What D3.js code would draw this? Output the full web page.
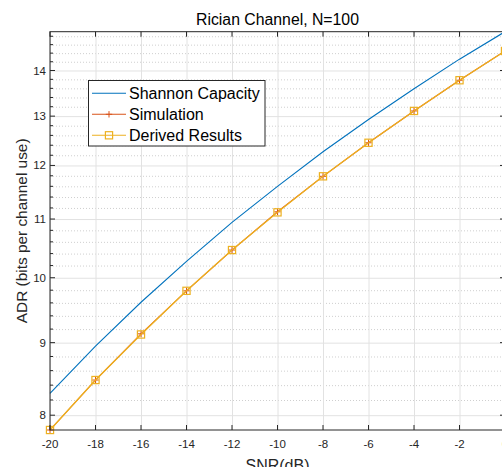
<!DOCTYPE html>
<html>
<head>
<meta charset="utf-8">
<script src="https://cdn.jsdelivr.net/npm/d3@7"></script>
<style>
  html, body { margin: 0; padding: 0; background: #fff; }
  svg { display: block; font-family: "Liberation Sans", Arial, Helvetica, sans-serif; }
</style>
</head>
<body>
<div id="chart"></div>
<script>
// SNR grid (dB)
const snrDb = [-20, -18, -16, -14, -12, -10, -8, -6, -4, -2, 0];
// Average achievable rate, bits per channel use
const shannonCapacity = [8.29, 8.95, 9.61, 10.27, 10.94, 11.60, 12.27, 12.93, 13.59, 14.26, 14.91];
const simulation      = [7.81, 8.47, 9.13, 9.79, 10.46, 11.13, 11.79, 12.45, 13.11, 13.78, 14.45];
const derivedResults  = [7.81, 8.47, 9.12, 9.79, 10.46, 11.12, 11.79, 12.45, 13.11, 13.78, 14.45];
// Axis ticks
const xTicks = [-20, -18, -16, -14, -12, -10, -8, -6, -4, -2, 0];
const yTicks = [8, 9, 10, 11, 12, 13, 14];
const legendLabels = ["Shannon Capacity", "Simulation", "Derived Results"];

const W = 502, H = 467;
const m = { left: 50, top: 31.7, right: 505, bottom: 430 };

const svg = d3.select("#chart").append("svg")
  .attr("width", W).attr("height", H);

const allVals = shannonCapacity.concat(simulation, derivedResults);
const x = d3.scaleLinear().domain([-20, 0]).range([m.left, m.right]);
const y = d3.scaleLog().domain(d3.extent(allVals)).range([m.bottom, m.top]);

// minor ticks for the log axis at 0.2 steps
const [y0, y1] = y.domain();
const yMinor = d3.range(Math.round(y0 * 5), Math.round(y1 * 5) + 1)
  .map(k => k / 5)
  .filter(v => v >= y0 - 1e-9 && v <= y1 + 1e-9 && Math.abs(v - Math.round(v)) > 1e-6);

const plotW = m.right - m.left, plotH = m.bottom - m.top;
const axisColor = "#262626";

// grid
const grid = svg.append("g");
grid.append("g").call(d3.axisLeft(y).tickValues(yMinor).tickSize(-plotW).tickFormat(""))
  .attr("transform", `translate(${m.left},0)`)
  .call(g => g.select(".domain").remove())
  .call(g => g.selectAll("line").attr("stroke", "#cfcfcf").attr("stroke-dasharray", "1,2"));
grid.append("g").call(d3.axisLeft(y).tickValues(yTicks).tickSize(-plotW).tickFormat(""))
  .attr("transform", `translate(${m.left},0)`)
  .call(g => g.select(".domain").remove())
  .call(g => g.selectAll("line").attr("stroke", "#e2e2e2"));
grid.append("g").call(d3.axisBottom(x).tickValues(xTicks).tickSize(-plotH).tickFormat(""))
  .attr("transform", `translate(0,${m.bottom})`)
  .call(g => g.select(".domain").remove())
  .call(g => g.selectAll("line").attr("stroke", "#e2e2e2"));

// series
const pts = vals => snrDb.map((d, i) => [d, vals[i]]);
const line = d3.line().x(d => x(d[0])).y(d => y(d[1]));

svg.append("path").datum(pts(shannonCapacity))
  .attr("d", line).attr("fill", "none").attr("stroke", "#0072BD").attr("stroke-width", 1.1);
svg.append("path").datum(pts(simulation))
  .attr("d", line).attr("fill", "none").attr("stroke", "#D95319").attr("stroke-width", 1.1);

const plusPath = s => `M${-s},0H${s}M0,${-s}V${s}`;
svg.append("g").selectAll("path").data(pts(simulation)).join("path")
  .attr("transform", d => `translate(${x(d[0])},${y(d[1])})`)
  .attr("d", plusPath(3.2)).attr("stroke", "#D95319").attr("stroke-width", 1).attr("fill", "none");

svg.append("path").datum(pts(derivedResults))
  .attr("d", line).attr("fill", "none").attr("stroke", "#EDB120").attr("stroke-width", 1.3);
svg.append("g").selectAll("rect").data(pts(derivedResults)).join("rect")
  .attr("x", d => x(d[0]) - 3.6).attr("y", d => y(d[1]) - 3.6)
  .attr("width", 7.2).attr("height", 7.2)
  .attr("fill", "none").attr("stroke", "#EDB120").attr("stroke-width", 1.2);

// axes box and ticks
const axes = svg.append("g").attr("stroke", axisColor).attr("stroke-width", 1);
axes.append("rect").attr("x", m.left).attr("y", m.top)
  .attr("width", plotW).attr("height", plotH).attr("fill", "none");

xTicks.forEach(t => {
  axes.append("line").attr("x1", x(t)).attr("x2", x(t)).attr("y1", m.bottom).attr("y2", m.bottom - 5);
  axes.append("line").attr("x1", x(t)).attr("x2", x(t)).attr("y1", m.top).attr("y2", m.top + 5);
});
yTicks.forEach(t => {
  axes.append("line").attr("x1", m.left).attr("x2", m.left + 5).attr("y1", y(t)).attr("y2", y(t));
  axes.append("line").attr("x1", m.right).attr("x2", m.right - 5).attr("y1", y(t)).attr("y2", y(t));
});
yMinor.forEach(t => {
  axes.append("line").attr("x1", m.left).attr("x2", m.left + 3).attr("y1", y(t)).attr("y2", y(t));
  axes.append("line").attr("x1", m.right).attr("x2", m.right - 3).attr("y1", y(t)).attr("y2", y(t));
});

// tick labels
svg.append("g").selectAll("text").data(xTicks).join("text")
  .attr("x", d => x(d)).attr("y", m.bottom + 18)
  .attr("text-anchor", "middle").attr("font-size", 11.5).attr("fill", axisColor)
  .text(d => d);
svg.append("g").selectAll("text").data(yTicks).join("text")
  .attr("x", m.left - 4).attr("y", d => y(d)).attr("dy", "0.35em")
  .attr("text-anchor", "end").attr("font-size", 11.5).attr("fill", axisColor)
  .text(d => d);

// labels
svg.append("text").attr("x", (m.left + m.right) / 2).attr("y", 25)
  .attr("text-anchor", "middle").attr("font-size", 15.8).attr("fill", "#000")
  .text("Rician Channel, N=100");
svg.append("text").attr("x", (m.left + m.right) / 2).attr("y", 471)
  .attr("text-anchor", "middle").attr("font-size", 16).attr("fill", axisColor)
  .text("SNR(dB)");
svg.append("text")
  .attr("transform", `translate(26.5,${(m.top + m.bottom) / 2}) rotate(-90)`)
  .attr("text-anchor", "middle").attr("font-size", 15.4).attr("fill", axisColor)
  .text("ADR (bits per channel use)");

// legend
const lg = svg.append("g");
lg.append("rect").attr("x", 88.5).attr("y", 80.5).attr("width", 176.5).attr("height", 65.5)
  .attr("fill", "#fff").attr("stroke", axisColor).attr("stroke-width", 1);
const rows = [93.3, 114.3, 135.3];
const colors = ["#0072BD", "#D95319", "#EDB120"];
legendLabels.forEach((lab, i) => {
  const ry = rows[i];
  lg.append("line").attr("x1", 92).attr("x2", 126).attr("y1", ry).attr("y2", ry)
    .attr("stroke", colors[i]).attr("stroke-width", 1.1);
  if (i === 1) {
    lg.append("path").attr("transform", `translate(109,${ry})`).attr("d", plusPath(3.2))
      .attr("stroke", colors[i]).attr("fill", "none");
  }
  if (i === 2) {
    lg.append("rect").attr("x", 109 - 3.6).attr("y", ry - 3.6).attr("width", 7.2).attr("height", 7.2)
      .attr("stroke", colors[i]).attr("stroke-width", 1.2).attr("fill", "none");
  }
  lg.append("text").attr("x", 129).attr("y", ry).attr("dy", "0.36em")
    .attr("font-size", 16).attr("fill", "#000").text(lab);
});
</script>
</body>
</html>
